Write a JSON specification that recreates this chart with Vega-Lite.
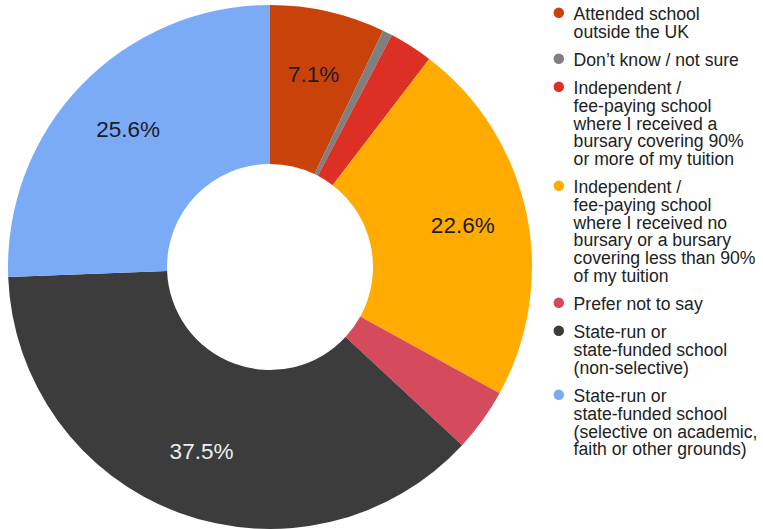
{
  "$schema": "https://vega.github.io/schema/vega-lite/v6.json",
  "width": 540,
  "height": 534,
  "padding": 0,
  "autosize": {"type": "pad"},
  "background": "white",
  "config": {"view": {"stroke": null}, "font": "Liberation Sans"},
  "data": {
    "values": [
      {"idx": 1, "category": "Attended school\noutside the UK", "value": 0.071},
      {"idx": 2, "category": "Don’t know / not sure", "value": 0.006},
      {"idx": 3, "category": "Independent /\nfee-paying school\nwhere I received a\nbursary covering 90%\nor more of my tuition", "value": 0.027},
      {"idx": 4, "category": "Independent /\nfee-paying school\nwhere I received no\nbursary or a bursary\ncovering less than 90%\nof my tuition", "value": 0.226},
      {"idx": 5, "category": "Prefer not to say", "value": 0.039},
      {"idx": 6, "category": "State-run or\nstate-funded school\n(non-selective)", "value": 0.375},
      {"idx": 7, "category": "State-run or\nstate-funded school\n(selective on academic,\nfaith or other grounds)", "value": 0.256}
    ]
  },
  "encoding": {
    "theta": {"field": "value", "type": "quantitative", "stack": true},
    "order": {"field": "idx", "type": "quantitative"}
  },
  "layer": [
    {
      "mark": {"type": "arc", "radius": 262, "radius2": 103},
      "encoding": {
        "color": {
          "field": "category",
          "type": "nominal",
          "sort": {"field": "idx"},
          "scale": {
            "range": ["#c8420a", "#7f7f7f", "#dc3024", "#ffab00", "#d64a5e", "#3c3c3c", "#7baaf7"]
          },
          "legend": {
            "title": null,
            "orient": "right",
            "offset": 6,
            "symbolType": "circle",
            "symbolSize": 110,
            "symbolStrokeWidth": 0,
            "labelFontSize": 17.6,
            "labelColor": "#222222",
            "labelLimit": 300,
            "labelExpr": "split(datum.label, '\\n')",
            "labelBaseline": "top",
            "labelOffset": 6,
            "rowPadding": 8,
            "padding": 4,
            "encode": {"labels": {"update": {"lineHeight": {"value": 17.9}, "dy": {"value": -7}}}}
          }
        }
      }
    },
    {
      "mark": {"type": "text", "radius": 197, "fontSize": 22.5},
      "encoding": {
        "text": {"field": "value", "type": "quantitative", "format": ".1%"},
        "opacity": {"condition": {"test": "datum.value < 0.05", "value": 0}, "value": 1},
        "color": {
          "condition": {"test": "datum.value > 0.3", "value": "#eeeeee"},
          "value": "#1c1c2a"
        }
      }
    }
  ]
}
